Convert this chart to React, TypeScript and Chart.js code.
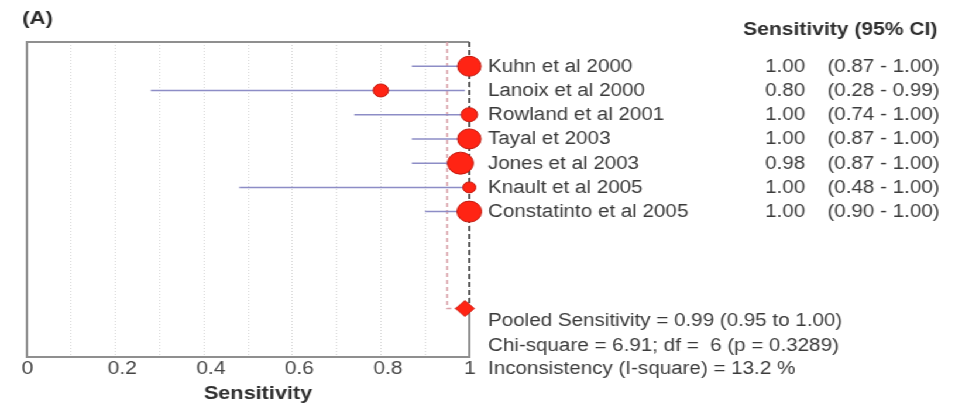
import React, { useEffect, useRef } from "react";
import { Chart, registerables } from "chart.js";

Chart.register(...registerables);

// ---------- data ----------
const studies = [
  "Kuhn et al 2000",
  "Lanoix et al 2000",
  "Rowland et al 2001",
  "Tayal et 2003",
  "Jones et al 2003",
  "Knault et al 2005",
  "Constatinto et al 2005",
];
const sensitivity = [1.0, 0.8, 1.0, 1.0, 0.98, 1.0, 1.0];
const ciLow = [0.87, 0.28, 0.74, 0.87, 0.87, 0.48, 0.9];
const ciHigh = [1.0, 0.99, 1.0, 1.0, 1.0, 1.0, 1.0];
const studyWeight = [10, 6.5, 7, 10, 11, 5.5, 10.5];

const pooledSens = 0.99;
const pooledLow = 0.95;
const pooledHigh = 1.0;
const chiSquare = 6.91;
const dfValue = 6;
const pValue = 0.3289;
const iSquare = 13.2;

const xTickValues = [0, 0.2, 0.4, 0.6, 0.8, 1];
const xTickLabels = ["0", "0.2", "0.4", "0.6", "0.8", "1"];
const xTitle = "Sensitivity";

// ---------- layout ----------
const W = 816;
const H = 407;
const SX = 955 / W;
const FONT = "'Liberation Sans', Arial, Helvetica, sans-serif";
const POOLED_ROW = studies.length + 4;
const TEXT = "#3a3a3a";

const framePlugin = {
  id: "frame",
  beforeDatasetsDraw(chart: any) {
    const { ctx, chartArea } = chart;
    const { left, top, right, bottom } = chartArea;
    const py = chart.scales.y.getPixelForValue(POOLED_ROW);
    ctx.save();
    ctx.strokeStyle = "#8f8f8f";
    ctx.lineWidth = 2;
    ctx.beginPath();
    ctx.moveTo(right, top);
    ctx.lineTo(left, top);
    ctx.lineTo(left, bottom);
    ctx.lineTo(right, bottom);
    ctx.lineTo(right, py);
    ctx.stroke();
    ctx.restore();
  },
};

const textPlugin = {
  id: "texts",
  afterDraw(chart: any) {
    const { ctx, chartArea } = chart;
    const y = chart.scales.y;
    const x = chart.scales.x;
    const labelX = 417;
    const valueRight = 688;
    const ciLeft = 707;
    ctx.save();
    ctx.textBaseline = "middle";

    // x tick labels
    ctx.font = `18px ${FONT}`;
    ctx.fillStyle = "#454545";
    ctx.textAlign = "center";
    xTickValues.forEach((v, i) => {
      const off = v > 0 && v < 1 ? 6 : 0.5;
      ctx.fillText(xTickLabels[i], x.getPixelForValue(v) + off, chartArea.bottom + 12);
    });

    // x title
    ctx.font = `bold 18.5px ${FONT}`;
    ctx.fillStyle = "#2f2f2f";
    ctx.fillText(xTitle, (chartArea.left + chartArea.right) / 2 + 8.5, chartArea.bottom + 37);

    // panel label
    ctx.fillStyle = "#2b2b2b";
    ctx.font = `bold 19px ${FONT}`;
    ctx.textAlign = "left";
    ctx.fillText("(A)", 19, 19);

    // header
    ctx.font = `bold 18px ${FONT}`;
    ctx.fillStyle = "#2f2f2f";
    ctx.fillText("Sensitivity (95% CI)", 635, 30);

    ctx.font = `17.6px ${FONT}`;
    ctx.fillStyle = TEXT;
    studies.forEach((name, i) => {
      const py = y.getPixelForValue(i + 1) + 0.5;
      ctx.textAlign = "left";
      ctx.fillText(name, labelX, py);
      ctx.textAlign = "right";
      ctx.fillText(sensitivity[i].toFixed(2), valueRight, py);
      ctx.textAlign = "left";
      ctx.fillText(
        `(${ciLow[i].toFixed(2)} - ${ciHigh[i].toFixed(2)})`,
        ciLeft,
        py
      );
    });

    const py = y.getPixelForValue(POOLED_ROW);
    ctx.textAlign = "left";
    ctx.fillText(
      `Pooled Sensitivity = ${pooledSens.toFixed(2)} (${pooledLow.toFixed(
        2
      )} to ${pooledHigh.toFixed(2)})`,
      labelX,
      py + 12.5
    );
    ctx.fillText(
      `Chi-square = ${chiSquare.toFixed(2)}; df =  ${dfValue} (p = ${pValue.toFixed(4)})`,
      labelX,
      py + 37.5
    );
    ctx.fillText(
      `Inconsistency (I-square) = ${iSquare.toFixed(1)} %`,
      labelX,
      py + 61
    );
    ctx.restore();
  },
};

export default function App() {
  const ref = useRef<HTMLCanvasElement>(null);

  useEffect(() => {
    const ciSets = studies.map((_, i) => ({
      type: "line" as const,
      data: [
        { x: ciLow[i], y: i + 1 },
        { x: ciHigh[i], y: i + 1 },
      ],
      showLine: true,
      borderColor: "#8d8dc6",
      borderWidth: 1.5,
      pointRadius: 0,
      fill: false,
      order: 3,
      clip: false as any,
    }));

    const chart = new Chart(ref.current as HTMLCanvasElement, {
      type: "scatter",
      data: {
        datasets: [
          {
            data: studies.map((_, i) => ({ x: sensitivity[i], y: i + 1 })),
            pointRadius: studyWeight,
            pointBackgroundColor: "#ff2414",
            pointBorderColor: "#c4180d",
            pointBorderWidth: 1,
            order: 0,
            clip: false as any,
          },
          {
            data: [{ x: pooledSens, y: POOLED_ROW }],
            pointStyle: "rectRot",
            pointRadius: 8,
            pointBackgroundColor: "#ff2414",
            pointBorderColor: "#d01a0e",
            pointBorderWidth: 1,
            order: 0,
            clip: false as any,
          },
          ...ciSets,
          {
            type: "line" as const,
            data: [
              { x: pooledLow, y: 0 },
              { x: pooledLow, y: POOLED_ROW },
              { x: pooledSens, y: POOLED_ROW },
            ],
            showLine: true,
            borderColor: "#d9a0a8",
            borderWidth: 1.5,
            borderDash: [4, 3],
            pointRadius: 0,
            fill: false,
            order: 4,
            clip: false as any,
          },
          {
            type: "line" as const,
            data: [
              { x: pooledHigh, y: 0 },
              { x: pooledHigh, y: POOLED_ROW },
            ],
            showLine: true,
            borderColor: "#5a5a5a",
            borderWidth: 2,
            borderDash: [5, 3],
            pointRadius: 0,
            fill: false,
            order: 2,
            clip: false as any,
          },
        ] as any,
      },
      options: {
        animation: false,
        responsive: false,
        events: [],
        layout: { padding: { left: 23, right: W - 401, top: 42, bottom: 0 } },
        plugins: {
          legend: { display: false },
          tooltip: { enabled: false },
        },
        scales: {
          x: {
            type: "linear",
            min: 0,
            max: 1,
            afterFit(scale: any) {
              scale.height = 50;
            },
            afterBuildTicks(scale: any) {
              const ticks = [];
              for (let k = 0; k <= 10; k++) ticks.push({ value: k / 10 });
              scale.ticks = ticks;
            },
            ticks: {
              autoSkip: false,
              maxRotation: 0,
              callback() {
                return "";
              },
            },
            grid: {
              color: "#d6d6d6",
              lineWidth: 1,
              drawTicks: false,
            },
            border: { display: false, dash: [1, 2] },
            title: { display: false },
          },
          y: {
            type: "linear",
            min: 0,
            max: 13,
            reverse: true,
            display: false,
          },
        },
      },
      plugins: [framePlugin, textPlugin],
    } as any);

    return () => chart.destroy();
  }, []);

  return (
    <div
      style={{
        position: "absolute",
        left: 0,
        top: 0,
        width: W,
        height: H,
        transform: `scaleX(${SX})`,
        transformOrigin: "0 0",
        background: "#fff",
      }}
    >
      <canvas
        ref={ref}
        width={W}
        height={H}
        style={{ width: W, height: H, display: "block" }}
      />
    </div>
  );
}
